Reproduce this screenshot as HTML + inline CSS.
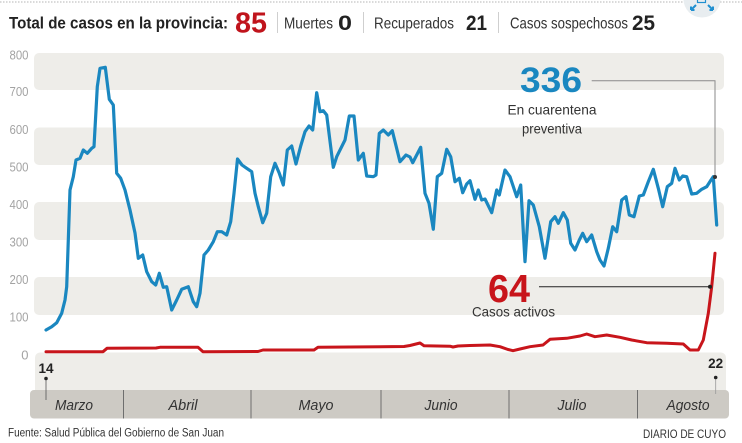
<!DOCTYPE html>
<html>
<head>
<meta charset="utf-8">
<style>
html,body{margin:0;padding:0;background:#fff;}
svg{display:block;}
text{font-family:"Liberation Sans",Arial,sans-serif;}
</style>
</head>
<body>
<svg width="742" height="443" viewBox="0 0 742 443" xmlns="http://www.w3.org/2000/svg">
  <rect x="0" y="0" width="742" height="443" fill="#fff"/>
  <!-- top dotted line -->
  <line x1="0" y1="2" x2="742" y2="2" stroke="#b5b5b5" stroke-width="1" stroke-dasharray="1.5,1.5"/>
  <!-- icon -->
  <circle cx="702" cy="-1" r="18.5" fill="#e8edf0"/>
  <rect x="697.5" y="-2" width="8" height="4.5" fill="none" stroke="#1f8fd0" stroke-width="1.2"/>
  <path d="M691 10 L696 5 M691 10 L691 6.5 M691 10 L694.5 10" stroke="#1f8fd0" stroke-width="2" fill="none"/>
  <path d="M713 10 L708 5 M713 10 L713 6.5 M713 10 L709.5 10" stroke="#1f8fd0" stroke-width="2" fill="none"/>

  <!-- header -->
  <text x="9" y="28.5" font-size="17" font-weight="bold" fill="#222" textLength="219" lengthAdjust="spacingAndGlyphs">Total de casos en la provincia:</text>
  <text x="235" y="32.5" font-size="29" font-weight="bold" fill="#c0141c" textLength="32" lengthAdjust="spacingAndGlyphs">85</text>
  <line x1="277.5" y1="12" x2="277.5" y2="33" stroke="#cfcfcf" stroke-width="1"/>
  <text x="284" y="28.5" font-size="16" fill="#333" textLength="49" lengthAdjust="spacingAndGlyphs">Muertes</text>
  <text x="338" y="30" font-size="21" font-weight="bold" fill="#222" textLength="14" lengthAdjust="spacingAndGlyphs">0</text>
  <line x1="363.5" y1="12" x2="363.5" y2="33" stroke="#cfcfcf" stroke-width="1"/>
  <text x="374" y="28.5" font-size="16" fill="#333" textLength="80" lengthAdjust="spacingAndGlyphs">Recuperados</text>
  <text x="466" y="30" font-size="21" font-weight="bold" fill="#222" textLength="21" lengthAdjust="spacingAndGlyphs">21</text>
  <line x1="498.5" y1="12" x2="498.5" y2="33" stroke="#cfcfcf" stroke-width="1"/>
  <text x="510" y="28.5" font-size="16" fill="#333" textLength="118" lengthAdjust="spacingAndGlyphs">Casos sospechosos</text>
  <text x="632" y="30" font-size="21" font-weight="bold" fill="#222" textLength="23" lengthAdjust="spacingAndGlyphs">25</text>

  <!-- bands -->
  <g fill="#eeede9">
    <rect x="34" y="53" width="690" height="37" rx="5"/>
    <rect x="34" y="127.5" width="690" height="37.5" rx="5"/>
    <rect x="34" y="202" width="690" height="38" rx="5"/>
    <rect x="34" y="277" width="690" height="38" rx="5"/>
    <rect x="35" y="352.5" width="691" height="50" rx="5"/>
  </g>

  <!-- y labels -->
  <g font-size="13" fill="#a3a3a3" text-anchor="end">
    <text x="28.5" y="59.5" textLength="19" lengthAdjust="spacingAndGlyphs">800</text>
    <text x="28.5" y="96" textLength="19" lengthAdjust="spacingAndGlyphs">700</text>
    <text x="28.5" y="134" textLength="19" lengthAdjust="spacingAndGlyphs">600</text>
    <text x="28.5" y="171.5" textLength="19" lengthAdjust="spacingAndGlyphs">500</text>
    <text x="28.5" y="209" textLength="19" lengthAdjust="spacingAndGlyphs">400</text>
    <text x="28.5" y="246.5" textLength="19" lengthAdjust="spacingAndGlyphs">300</text>
    <text x="28.5" y="284" textLength="19" lengthAdjust="spacingAndGlyphs">200</text>
    <text x="28.5" y="321.5" textLength="19" lengthAdjust="spacingAndGlyphs">100</text>
    <text x="28.5" y="359.5">0</text>
  </g>

  <!-- x bar -->
  <rect x="30" y="390" width="699" height="28.5" rx="4" fill="#cdcac4"/>
  <g stroke="#6e6e6e" stroke-width="1">
    <line x1="123.5" y1="390" x2="123.5" y2="418.5"/>
    <line x1="251" y1="390" x2="251" y2="418.5"/>
    <line x1="381" y1="390" x2="381" y2="418.5"/>
    <line x1="509" y1="390" x2="509" y2="418.5"/>
    <line x1="637.5" y1="390" x2="637.5" y2="418.5"/>
  </g>
  <g font-size="15" font-style="italic" fill="#333" text-anchor="middle">
    <text x="74" y="410" textLength="38" lengthAdjust="spacingAndGlyphs">Marzo</text>
    <text x="183" y="410" textLength="29" lengthAdjust="spacingAndGlyphs">Abril</text>
    <text x="316" y="410" textLength="35" lengthAdjust="spacingAndGlyphs">Mayo</text>
    <text x="441" y="410" textLength="33" lengthAdjust="spacingAndGlyphs">Junio</text>
    <text x="572" y="410" textLength="29" lengthAdjust="spacingAndGlyphs">Julio</text>
    <text x="688" y="410" textLength="43" lengthAdjust="spacingAndGlyphs">Agosto</text>
  </g>

  <!-- markers -->
  <text x="46" y="373" font-size="13.5" font-weight="bold" fill="#222" text-anchor="middle">14</text>
  <line x1="46" y1="378.5" x2="46" y2="400" stroke="#555" stroke-width="0.8"/>
  <circle cx="46" cy="378.5" r="1.8" fill="#222"/>
  <text x="715.7" y="368" font-size="13.5" font-weight="bold" fill="#222" text-anchor="middle">22</text>
  <line x1="715.7" y1="377.5" x2="715.7" y2="394" stroke="#999" stroke-width="0.8"/>
  <circle cx="715.7" cy="377.5" r="1.8" fill="#222"/>

  <!-- red line -->
  <polyline fill="none" stroke="#c8151b" stroke-width="3" stroke-linejoin="round" stroke-linecap="round" points="46,351.7 103,351.7 107,348.3 156,348 160,347.3 198,347.3 203,351.7 258,351.5 263,350 314,350 318,347.3 404,346.5 410,345.5 416,344 420,343 424,345.7 450,346.2 453,347 458,346 470,345.5 490,345 500,346.7 508,349.5 513,350.7 520,349 530,346.7 543,345 550,339.3 566.7,338.3 580,336 586.7,334 595,336.7 606.7,335 620,337.3 631.7,340 646.7,342.7 666.7,343.3 683.3,344 690,350 698.3,350 703.3,340 708.3,313.3 711.7,286.7 715,253.3"/>

  <!-- blue line -->
  <polyline fill="none" stroke="#1a87c0" stroke-width="3.2" stroke-linejoin="round" stroke-linecap="round" points="46,330 51.7,326.7 56.7,322.7 61.7,313.3 65,300 66.7,286.7 68.3,240 70,190 73.3,176.7 76,160 80,158.3 83.3,150 87.3,153.3 91.7,148.3 94,146.7 97.3,86.7 100,68.3 105.3,67.3 109.3,99.3 113.3,105 116.7,173.3 120.7,178.3 125,190 130,210 135,233 138.3,258.3 142.7,255 146.7,271.7 151.7,281.7 155.7,285 159.3,273.3 163.3,287.3 166.7,286.7 171.7,310 176.7,300 181.7,289.3 188.3,286.7 193.3,301.7 196.7,306.7 200,293.3 204,255 208.3,250 213.3,241.7 217.3,231.7 221.7,231.7 226.7,235 230.7,221.7 234,193.3 237.5,159 242,165 246.7,168.3 251.7,171.7 255,193.3 258.3,206.7 262.7,222.7 266.7,213.3 270.7,176.7 275,163.3 279.3,173.3 283.3,185 287.3,150 291.7,146 296,164 300.7,146 305,131.7 309,126 312.7,130 316.7,92.7 320,111.7 323.3,110.7 326.7,115 333.3,167.3 336.7,156.7 345,140 349.3,116 354,116 358.3,160 363.3,153.3 366.7,176 373.3,176.7 376,175 379.3,133.3 383.3,130 388.3,135 392.3,130.7 400,161.7 406,155 410,157 412.7,162.7 420.7,147.3 425,193.3 429,203.3 433.3,229.3 437.3,176.7 441.7,173.3 446.7,149.3 450.7,156.7 455,181.7 459.3,178.3 462.7,192.7 466.7,184 470,180.7 475,199.3 478.3,190 481.7,200 485,199 491.7,212.7 496.7,190 499.3,195 505,170 510,176.7 516.7,196.7 520.7,185 525,261.7 529,200.7 533.3,205 539.3,226.7 545,258.3 550.7,221.7 555,216.7 558.3,223.3 563.3,212.7 567.3,220 570.7,243.3 575,250 579.3,240 582.7,233.3 586.7,241.7 591.7,235 596.7,251.7 600,260 604,266 608.3,248.3 612.7,226.7 616.7,231.7 621.7,200 626,196.7 629.3,215 634,216.7 639.3,196 643.3,195 648.3,181.7 653.3,169.3 658.3,188.3 662.7,206.7 667.3,186.7 671.7,183.3 675,168.3 679.3,180 682.7,176 686.7,176.7 691.7,194 696.7,193.3 701.7,189.3 706.7,186.7 711,180 713.3,176.7 716.7,225"/>

  <!-- annotations -->
  <polyline points="591.7,80.7 715,80.7 715,177" fill="none" stroke="#8a8a8a" stroke-width="1"/>
  <circle cx="715" cy="177" r="2" fill="#333"/>
  <text x="520" y="92" font-size="35" font-weight="bold" fill="#1a87c0" textLength="62" lengthAdjust="spacingAndGlyphs">336</text>
  <text x="552" y="114.5" font-size="14" fill="#333" text-anchor="middle" textLength="89" lengthAdjust="spacingAndGlyphs">En cuarentena</text>
  <text x="552" y="133.5" font-size="14" fill="#333" text-anchor="middle" textLength="60" lengthAdjust="spacingAndGlyphs">preventiva</text>

  <line x1="539" y1="286.7" x2="710" y2="286.7" stroke="#222" stroke-width="1"/>
  <circle cx="710" cy="286.7" r="2" fill="#222"/>
  <text x="488" y="302" font-size="39" font-weight="bold" fill="#c8151b" textLength="42" lengthAdjust="spacingAndGlyphs">64</text>
  <text x="472" y="316.5" font-size="14" fill="#333" textLength="83" lengthAdjust="spacingAndGlyphs">Casos activos</text>

  <!-- footer -->
  <text x="8" y="436.5" font-size="11.5" fill="#333" textLength="216" lengthAdjust="spacingAndGlyphs">Fuente: Salud Pública del Gobierno de San Juan</text>
  <text x="643" y="438" font-size="11.5" fill="#333" textLength="83" lengthAdjust="spacingAndGlyphs">DIARIO DE CUYO</text>
</svg>
</body>
</html>
